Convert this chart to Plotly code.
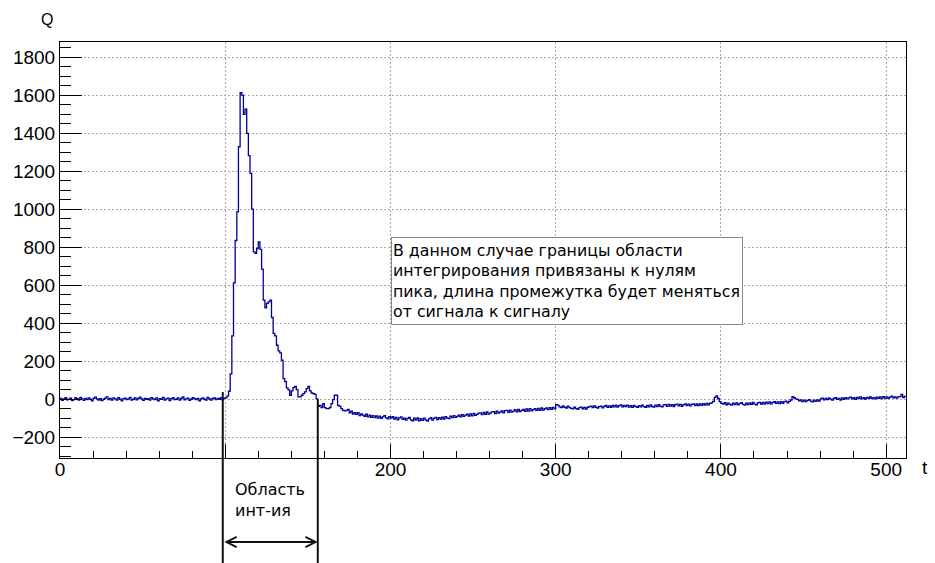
import numpy as np
import plotly.graph_objects as go

# Charge per time bin (bin width 1), split by signal region
q_pre = [4, -6, 2, 8, -3, 0, 6, -7, -2, 9, 3, -4, 10, 2, -6, 4,
         -2, 7, 0, -8, 5, 11, 2, -4, 3, -7, 0, 6, 12, -2, 4, -5,
         7, 2, -4, 9, 0, -9, 3, 6, -2, 2, 10, -5, 0, 7, -3, 4,
         11, 2, -6, 5, 0, 3, -5, 8, 2, -2, 7, -8, 3, 0, 10, -4,
         2, 6, -7, 3, 9, -2, 0, 7, -5, 4, 12, -3, 2, 6, -6, 0,
         8, 3, -2, 5, -8, 2, 7, 0, -4, 10, 2, -5, 4, 7, -2, 5,
         0, 8, -3, 6, 8, 16]
q_peak = [42, 133, 333, 612, 835, 986, 1328, 1612, 1600, 1498,
          1526, 1398, 1281, 1188, 1000, 775, 767, 793, 828, 788,
          684, 521, 481, 504, 512, 521, 430, 346, 333, 284,
          254, 244, 205, 109, 93, 60, 49, 20, 44, 61,
          68, 51, 12, 12, 21, 30, 39, 56, 68, 44,
          33, 30, 26, 2]
q_dip = [-37, -32, -44, -23, -44, -49, -49, -44, -23, -2,
         21, 21, -32, -37, -49, -58, -61, -58, -54]
q_tail1 = [-72, -63, -78, -70, -80, -71, -86, -77, -83, -90,
           -78, -92, -84, -95, -86, -97, -88, -99, -89, -101,
           -93, -86, -98, -103, -91, -99,
           -92, -105, -96, -108, -98, -93, -106, -99, -110, -101,
           -95, -108, -113, -100, -110, -98, -114, -102, -111, -99,
           -108, -115, -103, -97, -110, -101, -95, -107, -97, -104]
q_tail2 = [-94, -104, -92, -99, -102, -89, -97, -86, -95, -90,
           -83, -93, -81, -90, -84, -79, -88, -77, -87, -75,
           -85, -80, -73, -72, -81, -69, -80, -67, -78, -73,
           -66, -65, -76, -63, -73, -68, -61, -72, -60, -58,
           -69, -57, -68, -62, -55, -66, -54, -65, -59, -53,
           -63, -51, -62, -50, -61, -55, -49, -59, -48, -58,
           -46, -57, -50, -45, -55, -44, -53, -43, -51, -28]
q_tail3 = [-31, -40, -44, -35, -42, -46, -36, -44, -48, -51,
           -42, -49, -53, -44, -41, -50, -43, -52, -42, -39,
           -36, -44, -35, -42,
           -46, -39, -36, -45, -37, -33, -43, -35, -42, -32,
           -40, -31, -41, -34, -30, -40, -33, -39, -31, -41,
           -34, -42, -33, -39, -43, -34, -40, -31, -39, -42,
           -33, -40, -30, -38, -41, -31, -39, -29, -37, -40,
           -30, -28, -37, -27, -36, -29, -38, -28, -26, -35,
           -27, -37, -28, -25, -34, -26, -35, -27, -24, -33,
           -25, -34, -24, -32, -23, -31, -22, -30, -21, -19,
           -11]
q_bump1 = [10, 18, 4]
q_tail4 = [-13, -22, -26, -18, -29, -20, -27, -31, -21, -28,
           -19, -30, -22, -18, -27, -31, -20, -28, -19, -27,
           -17, -26, -30, -19, -16, -25, -17, -26, -15, -23,
           -14, -24, -16, -13, -22, -14, -23, -12, -21, -13,
           -10, -19, -11, -4]
q_bump2 = [14, 8, 2]
q_tail5 = [-1, -9, -3, -12, -5, -13, -6, -2, -10, -14,
           -5, -11, -3, -10, 2, 6, -3, 4, -2, 7,
           1, -5, 4, 8, -1, 5, -4, 7, 0, 9,
           2, 7, 11, 2, 8, -1, 10, 4, 12, 2,
           8, 1, 10, 5, 13, 3, 9, 2, 11, 5,
           12, 3, 14, 6, 12, 5, 11, 16, 7, 13,
           6, 12, 14, 26, 9, 15]

# Integration window: zero crossings around the peak, and the level where each marker starts
int_bounds = [98.5, 156.0]
int_marker_top = [38, 0]

x_tickvals = [0, 100, 200, 300, 400, 500]
x_ticktext = ["0", "", "200", "300", "400", "500"]

box_text = ("В данном случае границы области<br>"
            "интегрирования привязаны к нулям<br>"
            "пика, длина промежутка будет меняться<br>"
            "от сигнала к сигналу")
window_text = "Область<br>инт-ия"

X_RANGE = [0, 512]
Y_RANGE = [-309, 1879]

q = np.concatenate([q_pre, q_peak, q_dip, q_tail1, q_tail2, q_tail3,
                    q_bump1, q_tail4, q_bump2, q_tail5])
edges = np.arange(len(q) + 1)


def paper_y(v):
    return (v - Y_RANGE[0]) / (Y_RANGE[1] - Y_RANGE[0])


W, H = 935, 563
ML, MR, MT, MB = 58, 29, 42, 105
plot_w = W - ML - MR
plot_h = H - MT - MB

fig = go.Figure(go.Scatter(
    x=edges, y=np.append(q, q[-1]), mode="lines",
    line=dict(shape="hv", color="#000099", width=1.3),
    hoverinfo="skip", showlegend=False))

tickfont = dict(family="Liberation Sans", size=19, color="black")
fig.update_xaxes(
    range=X_RANGE, tickmode="array", tickvals=x_tickvals, ticktext=x_ticktext,
    ticks="inside", ticklen=14, ticklabelstandoff=-6,
    tickcolor="black", tickwidth=1, showline=True, linecolor="black",
    linewidth=1, mirror=True, showgrid=True, gridcolor="#aaaaaa",
    griddash="2px,2px", gridwidth=1, zeroline=False, tickfont=tickfont,
    minor=dict(tick0=0, dtick=20, ticks="inside", ticklen=7,
               tickcolor="black", showgrid=False))
fig.update_yaxes(
    range=Y_RANGE, tick0=0, dtick=200, ticks="inside", ticklen=22,
    tickcolor="black", tickwidth=1, showline=True, linecolor="black",
    linewidth=1, mirror=True, showgrid=True, gridcolor="#aaaaaa",
    griddash="2px,2px", gridwidth=1, zeroline=False, tickfont=tickfont,
    minor=dict(dtick=50, ticks="inside", ticklen=11, tickcolor="black",
               showgrid=False))

# Integration window markers running from the trace down below the axis
bottom = -(MB + 5) / plot_h
for xb, top in zip(int_bounds, int_marker_top):
    fig.add_shape(type="line", xref="x", yref="paper", x0=xb, x1=xb,
                  y0=paper_y(top), y1=bottom,
                  line=dict(color="#111111", width=2), layer="above")

arrow_y = -84 / plot_h
fig.add_annotation(xref="x", yref="paper", x=int_bounds[1], y=arrow_y,
                   axref="x", ayref="pixel", ax=int_bounds[0], ay=0,
                   text="", showarrow=True, arrowside="end+start",
                   arrowhead=5, startarrowhead=5, arrowsize=1,
                   startarrowsize=1, arrowwidth=2, arrowcolor="#111111",
                   standoff=0, startstandoff=0)

fig.add_annotation(xref="paper", yref="paper", x=(231 - ML) / plot_w,
                   y=-42 / plot_h, xanchor="left", yanchor="middle",
                   text=window_text, showarrow=False, align="left",
                   font=dict(family="DejaVu Sans", size=16, color="black"))

fig.add_annotation(xref="paper", yref="paper", x=(390 - ML) / plot_w,
                   y=(H - MB - 237) / plot_h, xanchor="left", yanchor="top",
                   text=box_text, showarrow=False, align="left",
                   valign="middle", width=348, height=84, borderpad=1,
                   bgcolor="white", bordercolor="#888888", borderwidth=1,
                   font=dict(family="DejaVu Sans", size=15.8, color="black"))

fig.add_annotation(xref="paper", yref="paper", x=(45 - ML) / plot_w,
                   y=(H - MB - 19) / plot_h, xanchor="center",
                   yanchor="middle", text="Q", showarrow=False,
                   font=dict(family="Liberation Sans", size=16, color="black"))
fig.add_annotation(xref="paper", yref="paper", x=(925 - ML) / plot_w,
                   y=(H - MB - 468) / plot_h, xanchor="center",
                   yanchor="middle", text="t", showarrow=False,
                   font=dict(family="Liberation Sans", size=19, color="black"))

fig.update_layout(
    width=W, height=H, margin=dict(l=ML, r=MR, t=MT, b=MB, pad=0),
    paper_bgcolor="white", plot_bgcolor="white")

fig.write_html("out.html")
